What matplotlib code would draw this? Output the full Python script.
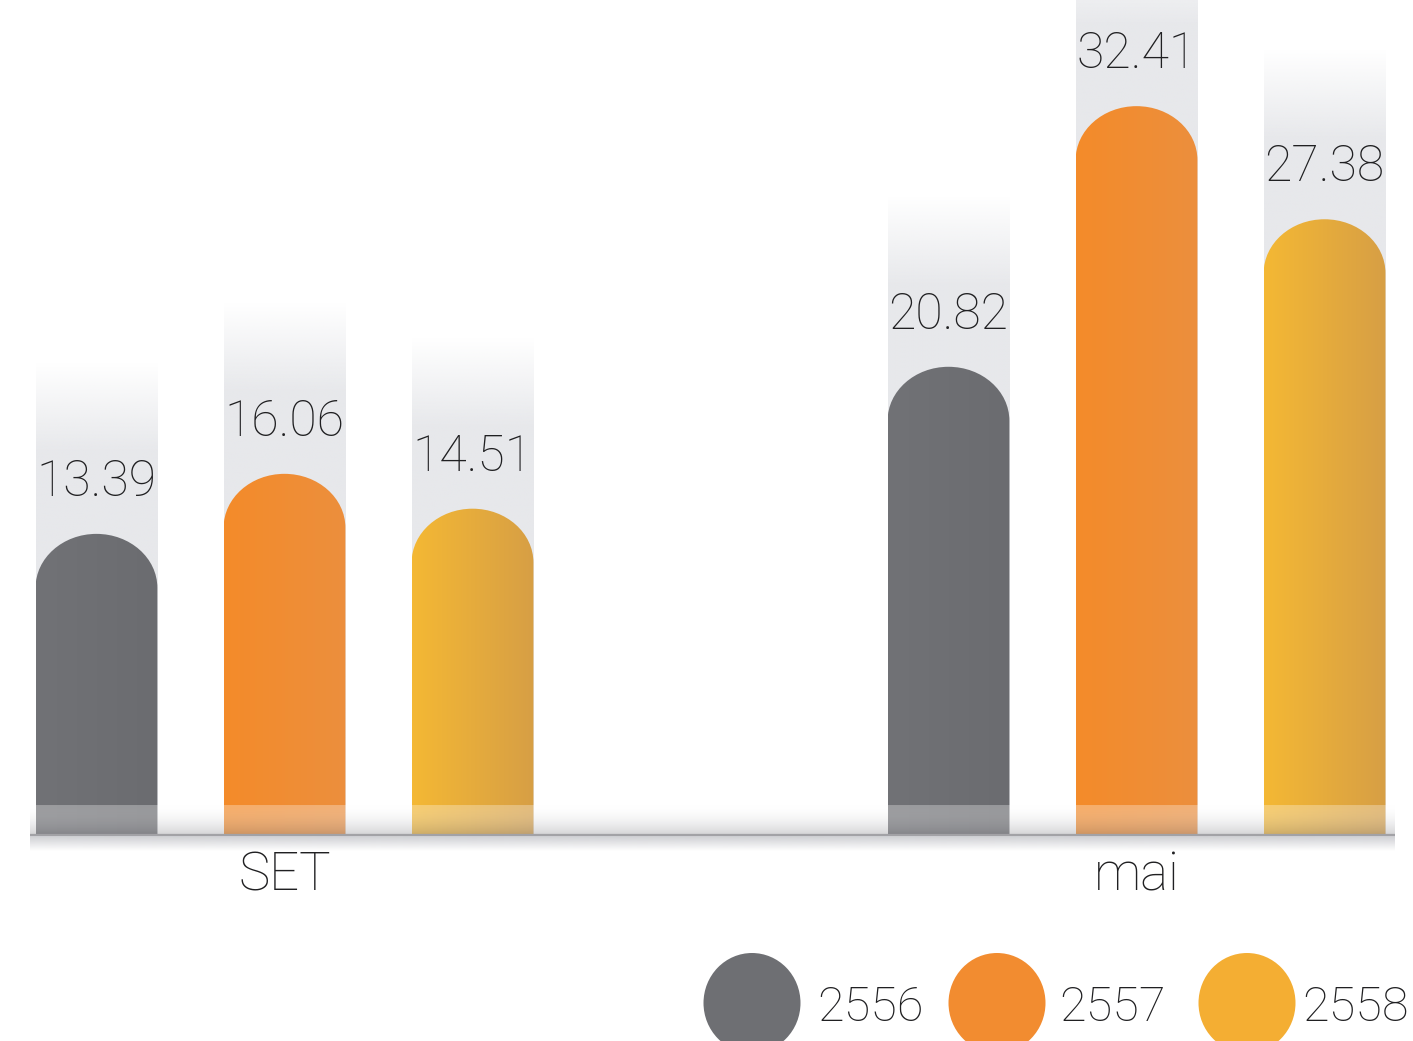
import numpy as np
import matplotlib
matplotlib.use("Agg")
import matplotlib.pyplot as plt
from matplotlib.path import Path
from matplotlib.patches import PathPatch, Ellipse
from matplotlib.colors import to_rgb

# ---- data -------------------------------------------------------------
categories = ["SET", "mai"]
years = ["2556", "2557", "2558"]
values_2556 = [13.39, 20.82]
values_2557 = [16.06, 32.41]
values_2558 = [14.51, 27.38]
series_values = [values_2556, values_2557, values_2558]

# ---- style ------------------------------------------------------------
bar_gradients = [("#717276", "#6b6c70"), ("#F48B2A", "#EC8F3D"), ("#F4B834", "#D79F45")]
legend_colors = ["#6E6F73", "#F28C30", "#F4AE33"]
shadow_color = "#E7E8EB"
text_color = "#202022"
FONT = "Roboto"
WEIGHT = "light"

W, H, DPI = 1413, 1041, 100
fig = plt.figure(figsize=(W / DPI, H / DPI), dpi=DPI)
ax = fig.add_axes([0, 0, 1, 1])
ax.set_axis_off()

XLIM = (-0.3339, 1.3245)
YLIM = (-9.16, 37.13)
px_x = W / (XLIM[1] - XLIM[0])      # pixels per x unit
px_y = H / (YLIM[1] - YLIM[0])      # pixels per y unit

offsets = [-0.2207, 0.0, 0.2207]
bar_w = 0.143
cap_h = 54 / px_y                    # height of the rounded cap


def capped_bar_path(xc, w, h, ry):
    x0, x1, rx, k = xc - w / 2, xc + w / 2, w / 2, 0.5523
    ys = h - ry
    verts = [(x0, 0), (x0, ys),
             (x0, ys + k * ry), (xc - k * rx, h), (xc, h),
             (xc + k * rx, h), (x1, ys + k * ry), (x1, ys),
             (x1, 0), (x0, 0)]
    codes = [Path.MOVETO, Path.LINETO,
             Path.CURVE4, Path.CURVE4, Path.CURVE4,
             Path.CURVE4, Path.CURVE4, Path.CURVE4,
             Path.LINETO, Path.CLOSEPOLY]
    return Path(verts, codes)


def hgradient(c0, c1, n=64):
    a, b = np.array(to_rgb(c0)), np.array(to_rgb(c1))
    t = np.linspace(0, 1, n)[None, :, None]
    return a + (b - a) * t


def shadow_column(color, total, fade, n=256):
    """Solid column that fades out over its top `fade` units (row 0 = top)."""
    rgb = np.array(to_rgb(color))
    img = np.zeros((n, 1, 4))
    img[:, 0, :3] = rgb
    y = np.linspace(total, 0, n)
    img[:, 0, 3] = np.clip((total - y) / fade, 0, 1)
    return img


# ---- shadow columns behind the bars ----------------------------------
shadow_above = 7.6
fade_len = 4.0
for si, vals in enumerate(series_values):
    for gi, v in enumerate(vals):
        xc = gi + offsets[si]
        top = v + shadow_above
        ax.imshow(shadow_column(shadow_color, top, fade_len),
                  extent=(xc - bar_w / 2, xc + bar_w / 2, 0, top),
                  aspect="auto", interpolation="bilinear", zorder=1)

# ---- bars ---------------------------------------------------------------
for si, vals in enumerate(series_values):
    c0, c1 = bar_gradients[si]
    for gi, v in enumerate(vals):
        xc = gi + offsets[si]
        patch = PathPatch(capped_bar_path(xc, bar_w, v, cap_h),
                          facecolor="none", edgecolor="none", zorder=3)
        ax.add_patch(patch)
        im = ax.imshow(hgradient(c0, c1),
                       extent=(xc - bar_w / 2, xc + bar_w / 2, 0, v),
                       aspect="auto", interpolation="bilinear", zorder=3)
        im.set_clip_path(patch)
        ax.text(xc, v + 38 / px_y, f"{v:.2f}", ha="center", va="baseline",
                fontsize=36, color=text_color, family=FONT, weight=WEIGHT, zorder=5)

# ---- baseline band -----------------------------------------------------
band_x0 = XLIM[0] + 30 / px_x
band_x1 = XLIM[0] + 1395 / px_x
band_h = 30 / px_y
n = 64
band = np.zeros((n, 1, 4))
t = np.linspace(0, 1, n)
top_rgb = np.array([1.0, 1.0, 1.0])
bot_rgb = np.array([0.62, 0.62, 0.64])
band[:, 0, :3] = top_rgb + (bot_rgb - top_rgb) * t[:, None] ** 1.6
band[:, 0, 3] = 0.30 + 0.15 * t
ax.imshow(band, extent=(band_x0, band_x1, 0, band_h), aspect="auto",
          interpolation="bilinear", zorder=4)
ax.plot([band_x0, band_x1], [0, 0], color="#A2A2A6", lw=1.6, zorder=4,
        solid_capstyle="butt")
below = np.zeros((n, 1, 4))
below[:, 0, :3] = to_rgb("#C9CACE")
below[:, 0, 3] = np.linspace(0.9, 0.0, n)
ax.imshow(below, extent=(band_x0, band_x1, -16 / px_y, -1 / px_y), aspect="auto",
          interpolation="bilinear", zorder=4)

# ---- category labels ---------------------------------------------------
for gi, cat in enumerate(categories):
    ax.text(gi, -55 / px_y, cat, ha="center", va="baseline", fontsize=38,
            color=text_color, family=FONT, weight=WEIGHT, zorder=5)

# ---- legend --------------------------------------------------------------
legend_cx = [752, 997, 1247]
legend_tx = [817, 1059, 1302]
legend_cy = 1003
for cx, tx, col, yr in zip(legend_cx, legend_tx, legend_colors, years):
    ax.add_patch(Ellipse((cx / W, 1 - legend_cy / H), 97 / W, 100 / H,
                         transform=ax.transAxes, facecolor=col, edgecolor="none",
                         clip_on=False, zorder=5))
    ax.text(tx / W, 1 - 1021 / H, yr, transform=ax.transAxes, ha="left",
            va="baseline", fontsize=35, color=text_color, family=FONT,
            weight=WEIGHT, zorder=5)

ax.set_xlim(*XLIM)
ax.set_ylim(*YLIM)
fig.savefig("out.png", dpi=DPI, facecolor="white")
